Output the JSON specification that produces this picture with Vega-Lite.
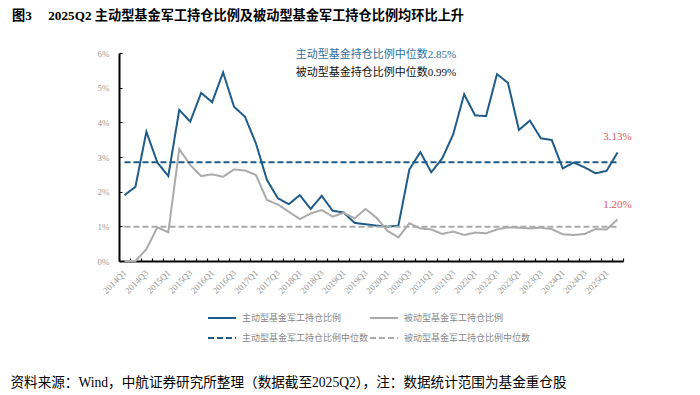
{
  "$schema": "https://vega.github.io/schema/vega-lite/v6.json",
  "width": 504,
  "height": 208,
  "autosize": {"type": "none"},
  "padding": {"left": 119, "top": 53, "right": 77, "bottom": 134},
  "background": "white",
  "config": {"view": {"stroke": null}, "font": "Liberation Serif, Noto Sans CJK SC"},
  "title": {
    "text": "图3\u00a0\u00a0\u00a0\u00a0\u00a02025Q2\u00a0主动型基金军工持仓比例及被动型基金军工持仓比例均环比上升",
    "anchor": "start",
    "frame": "group",
    "dx": -107,
    "offset": 26,
    "fontSize": 13.2,
    "fontWeight": "bold",
    "color": "#000000",
    "font": "Liberation Serif, Noto Sans CJK SC"
  },
  "datasets": {
    "ratios": [
      {"q": "2014Q1", "主动型基金军工持仓比例": 1.90, "被动型基金军工持仓比例": 0.00},
      {"q": "2014Q2", "主动型基金军工持仓比例": 2.14, "被动型基金军工持仓比例": 0.00},
      {"q": "2014Q3", "主动型基金军工持仓比例": 3.73, "被动型基金军工持仓比例": 0.34},
      {"q": "2014Q4", "主动型基金军工持仓比例": 2.84, "被动型基金军工持仓比例": 0.97},
      {"q": "2015Q1", "主动型基金军工持仓比例": 2.45, "被动型基金军工持仓比例": 0.83},
      {"q": "2015Q2", "主动型基金军工持仓比例": 4.36, "被动型基金军工持仓比例": 3.23},
      {"q": "2015Q3", "主动型基金军工持仓比例": 4.02, "被动型基金军工持仓比例": 2.77},
      {"q": "2015Q4", "主动型基金军工持仓比例": 4.85, "被动型基金军工持仓比例": 2.45},
      {"q": "2016Q1", "主动型基金军工持仓比例": 4.58, "被动型基金军工持仓比例": 2.50},
      {"q": "2016Q2", "主动型基金军工持仓比例": 5.44, "被动型基金军工持仓比例": 2.43},
      {"q": "2016Q3", "主动型基金军工持仓比例": 4.45, "被动型基金军工持仓比例": 2.64},
      {"q": "2016Q4", "主动型基金军工持仓比例": 4.16, "被动型基金军工持仓比例": 2.61},
      {"q": "2017Q1", "主动型基金军工持仓比例": 3.39, "被动型基金军工持仓比例": 2.48},
      {"q": "2017Q2", "主动型基金军工持仓比例": 2.34, "被动型基金军工持仓比例": 1.76},
      {"q": "2017Q3", "主动型基金军工持仓比例": 1.81, "被动型基金军工持仓比例": 1.63},
      {"q": "2017Q4", "主动型基金军工持仓比例": 1.64, "被动型基金军工持仓比例": 1.42},
      {"q": "2018Q1", "主动型基金军工持仓比例": 1.90, "被动型基金军工持仓比例": 1.21},
      {"q": "2018Q2", "主动型基金军工持仓比例": 1.50, "被动型基金军工持仓比例": 1.37},
      {"q": "2018Q3", "主动型基金军工持仓比例": 1.88, "被动型基金军工持仓比例": 1.47},
      {"q": "2018Q4", "主动型基金军工持仓比例": 1.45, "被动型基金军工持仓比例": 1.28},
      {"q": "2019Q1", "主动型基金军工持仓比例": 1.40, "被动型基金军工持仓比例": 1.39},
      {"q": "2019Q2", "主动型基金军工持仓比例": 1.10, "被动型基金军工持仓比例": 1.23},
      {"q": "2019Q3", "主动型基金军工持仓比例": 1.06, "被动型基金军工持仓比例": 1.50},
      {"q": "2019Q4", "主动型基金军工持仓比例": 1.02, "被动型基金军工持仓比例": 1.25},
      {"q": "2020Q1", "主动型基金军工持仓比例": 0.99, "被动型基金军工持仓比例": 0.87},
      {"q": "2020Q2", "主动型基金军工持仓比例": 1.02, "被动型基金军工持仓比例": 0.68},
      {"q": "2020Q3", "主动型基金军工持仓比例": 2.64, "被动型基金军工持仓比例": 1.09},
      {"q": "2020Q4", "主动型基金军工持仓比例": 3.14, "被动型基金军工持仓比例": 0.94},
      {"q": "2021Q1", "主动型基金军工持仓比例": 2.56, "被动型基金军工持仓比例": 0.91},
      {"q": "2021Q2", "主动型基金军工持仓比例": 2.96, "被动型基金军工持仓比例": 0.78},
      {"q": "2021Q3", "主动型基金军工持仓比例": 3.65, "被动型基金军工持仓比例": 0.85},
      {"q": "2021Q4", "主动型基金军工持仓比例": 4.81, "被动型基金军工持仓比例": 0.75},
      {"q": "2022Q1", "主动型基金军工持仓比例": 4.20, "被动型基金军工持仓比例": 0.82},
      {"q": "2022Q2", "主动型基金军工持仓比例": 4.18, "被动型基金军工持仓比例": 0.80},
      {"q": "2022Q3", "主动型基金军工持仓比例": 5.39, "被动型基金军工持仓比例": 0.91},
      {"q": "2022Q4", "主动型基金军工持仓比例": 5.14, "被动型基金军工持仓比例": 0.97},
      {"q": "2023Q1", "主动型基金军工持仓比例": 3.78, "被动型基金军工持仓比例": 0.96},
      {"q": "2023Q2", "主动型基金军工持仓比例": 4.05, "被动型基金军工持仓比例": 0.94},
      {"q": "2023Q3", "主动型基金军工持仓比例": 3.54, "被动型基金军工持仓比例": 0.96},
      {"q": "2023Q4", "主动型基金军工持仓比例": 3.49, "被动型基金军工持仓比例": 0.92},
      {"q": "2024Q1", "主动型基金军工持仓比例": 2.67, "被动型基金军工持仓比例": 0.77},
      {"q": "2024Q2", "主动型基金军工持仓比例": 2.84, "被动型基金军工持仓比例": 0.75},
      {"q": "2024Q3", "主动型基金军工持仓比例": 2.70, "被动型基金军工持仓比例": 0.78},
      {"q": "2024Q4", "主动型基金军工持仓比例": 2.53, "被动型基金军工持仓比例": 0.92},
      {"q": "2025Q1", "主动型基金军工持仓比例": 2.60, "被动型基金军工持仓比例": 0.91},
      {"q": "2025Q2", "主动型基金军工持仓比例": 3.13, "被动型基金军工持仓比例": 1.20}
    ],
    "medians": [
      {"series": "主动型基金军工持仓比例中位数", "value": 2.85, "q": "2014Q1", "end": "2025Q2"},
      {"series": "被动型基金军工持仓比例中位数", "value": 0.99, "q": "2014Q1", "end": "2025Q2"}
    ],
    "notesBlue": [{"q": "2018Q1", "value": 5.94, "label": "主动型基金持仓比例中位数2.85%"}],
    "notesBlack": [{"q": "2018Q1", "value": 5.42, "label": "被动型基金持仓比例中位数0.99%"}],
    "notesRed": [
      {"q": "2025Q2", "value": 3.58, "label": "3.13%"},
      {"q": "2025Q2", "value": 1.62, "label": "1.20%"}
    ]
  },
  "encoding": {
    "x": {
      "field": "q",
      "type": "ordinal",
      "sort": null,
      "bandPosition": 0.5,
      "scale": {"type": "band", "paddingInner": 0, "paddingOuter": 0},
      "axis": {
        "title": "资料来源：Wind，中航证券研究所整理（数据截至2025Q2），注：数据统计范围为基金重仓股",
        "titleX": -109,
        "titleY": 121,
        "titleAlign": "left",
        "titleAnchor": null,
        "titleBaseline": "middle",
        "titleFontSize": 13.6,
        "titleFontWeight": "normal",
        "titleColor": "#000000",
        "titleFont": "Liberation Serif, Noto Sans CJK SC",
        "domainColor": "#000000",
        "domainWidth": 2,
        "tickBand": "extent",
        "tickColor": "#000000",
        "tickSize": -3,
        "tickWidth": 1.2,
        "labelAngle": -45,
        "labelAlign": "right",
        "labelBaseline": "middle",
        "labelPadding": 13,
        "labelFontSize": 9,
        "labelFont": "Liberation Serif",
        "labelColor": "#999999",
        "labelOverlap": false,
        "labelExpr": "(substring(datum.value,4)=='Q1' || substring(datum.value,4)=='Q3') ? datum.value : ''"
      }
    },
    "y": {
      "field": "value",
      "type": "quantitative",
      "scale": {"domain": [0, 6], "nice": false},
      "axis": {
        "title": null,
        "values": [0, 1, 2, 3, 4, 5, 6],
        "labelExpr": "datum.value + '%'",
        "labelOverlap": false,
        "grid": false,
        "domainColor": "#000000",
        "domainWidth": 2,
        "tickColor": "#000000",
        "tickSize": -3,
        "labelPadding": 13,
        "labelFontSize": 9,
        "labelFont": "Liberation Serif",
        "labelColor": "#999999"
      }
    }
  },
  "layer": [
    {
      "data": {"name": "ratios"},
      "transform": [{"fold": ["主动型基金军工持仓比例", "被动型基金军工持仓比例"], "as": ["series", "value"]}],
      "mark": {"type": "line", "strokeWidth": 2},
      "encoding": {
        "color": {
          "field": "series",
          "type": "nominal",
          "scale": {
            "domain": ["主动型基金军工持仓比例", "被动型基金军工持仓比例", "主动型基金军工持仓比例中位数", "被动型基金军工持仓比例中位数"],
            "range": ["#1f5c8a", "#aaaaaa", "#1f5c8a", "#aaaaaa"]
          },
          "legend": {
            "title": null,
            "orient": "none",
            "direction": "horizontal",
            "legendX": 88,
            "legendY": 250,
            "columns": 2,
            "columnPadding": -6,
            "rowPadding": -9,
            "symbolType": "stroke",
            "symbolSize": 784,
            "symbolStrokeWidth": 2,
            "labelFontSize": 9,
            "labelFont": "Noto Sans CJK SC",
            "labelColor": "#888888",
            "labelOffset": 5
          }
        },
        "strokeDash": {
          "field": "series",
          "type": "nominal",
          "scale": {
            "domain": ["主动型基金军工持仓比例", "被动型基金军工持仓比例", "主动型基金军工持仓比例中位数", "被动型基金军工持仓比例中位数"],
            "range": [[1, 0], [1, 0], [6, 3], [6, 3]]
          },
          "legend": null
        }
      }
    },
    {
      "data": {"name": "medians"},
      "mark": {"type": "rule", "strokeWidth": 2},
      "encoding": {
        "x2": {"field": "end"},
        "color": {
          "field": "series",
          "type": "nominal",
          "scale": {
            "domain": ["主动型基金军工持仓比例", "被动型基金军工持仓比例", "主动型基金军工持仓比例中位数", "被动型基金军工持仓比例中位数"],
            "range": ["#1f5c8a", "#aaaaaa", "#1f5c8a", "#aaaaaa"]
          }
        },
        "strokeDash": {
          "field": "series",
          "type": "nominal",
          "scale": {
            "domain": ["主动型基金军工持仓比例", "被动型基金军工持仓比例", "主动型基金军工持仓比例中位数", "被动型基金军工持仓比例中位数"],
            "range": [[1, 0], [1, 0], [6, 3], [6, 3]]
          }
        }
      }
    },
    {
      "data": {"name": "notesBlue"},
      "mark": {"type": "text", "align": "left", "baseline": "middle", "dx": -4, "fontSize": 11, "color": "#2f6f9f"},
      "encoding": {"text": {"field": "label"}}
    },
    {
      "data": {"name": "notesBlack"},
      "mark": {"type": "text", "align": "left", "baseline": "middle", "dx": -4, "fontSize": 11, "color": "#111111"},
      "encoding": {"text": {"field": "label"}}
    },
    {
      "data": {"name": "notesRed"},
      "mark": {"type": "text", "align": "center", "baseline": "middle", "fontSize": 11, "color": "#e05a5a"},
      "encoding": {"text": {"field": "label"}}
    }
  ]
}
